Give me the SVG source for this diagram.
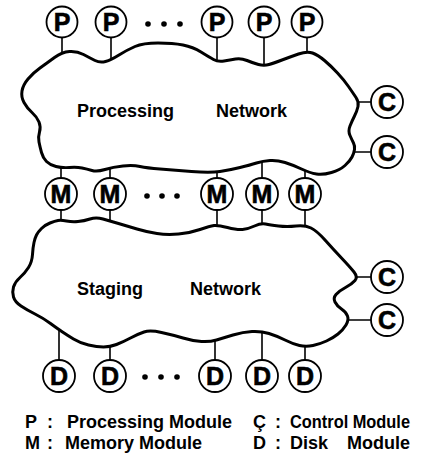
<svg xmlns="http://www.w3.org/2000/svg" width="421" height="455" viewBox="0 0 421 455">
  <style>
    .cloud { fill: none; stroke: #000; stroke-width: 3; stroke-linejoin: round; }
    .stem { stroke: #000; stroke-width: 1.6; fill: none; }
    .mod circle { fill: #fff; stroke: #000; stroke-width: 1.8; }
    .mod text { font-family: "Liberation Sans", Arial, sans-serif; font-weight: bold; font-size: 25px; text-anchor: middle; fill: #000; stroke: #000; stroke-width: 0.6; }
    .label { font-family: "Liberation Sans", Arial, sans-serif; font-weight: bold; font-size: 18px; fill: #000; }
    .legend { font-family: "Liberation Sans", Arial, sans-serif; font-weight: bold; font-size: 18px; fill: #000; }
    .dot { fill: #000; }
  </style>
  <rect width="421" height="455" fill="#fff"/>

  <!-- networks -->
  <g id="processing-network">
    <path class="cloud" d="M24,102.5 Q21,97 22,91 Q23,85 28,79 Q33,73 40,68 Q47,63 54.5,57.5 Q62,52 69.5,51.5 Q77,51 83.5,54.5 Q90,58 95,60.5 Q100,63 105.5,61.5 Q111,60 119,55 Q127,50 135,46.5 Q143,43 158,43 Q173,43 183,45 Q193,47 201,52 Q209,57 213.5,59.5 Q218,62 224,61 Q230,60 235.5,59 Q241,58 247,60.5 Q253,63 258.5,64.5 Q264,66 269,64.5 Q274,63 282,60 Q290,57 298.5,54 Q307,51 312.5,53 Q318,55 324.5,60.5 Q331,66 337.5,73 Q344,80 348.5,86.5 Q353,93 356,97.5 Q359,102 358,106.5 Q357,111 354.5,116 Q352,121 350,126 Q348,131 350,135.5 Q352,140 353.5,143 Q355,146 354.5,149.5 Q354,153 352,157 Q350,161 345,165.5 Q340,170 331.5,172.5 Q323,175 316.5,174 Q310,173 301.5,169 Q293,165 285,162.5 Q277,160 270,160.5 Q263,161 256.5,163 Q250,165 240,167.5 Q230,170 220,171.5 Q210,173 191.5,171.5 Q173,170 160,169 Q147,168 140,166.5 Q133,165 123,166 Q113,167 105,169.5 Q97,172 92,170.5 Q87,169 82,168 Q77,167 69.5,167.5 Q62,168 56,166.5 Q50,165 46.5,161.5 Q43,158 41.5,152.5 Q40,147 39,142 Q38,137 39.5,132 Q41,127 39,122 Q37,117 32,112.5 Q27,108 24,102.5 Z"/>
    <text class="label" y="117"><tspan x="77">Processing</tspan><tspan x="216">Network</tspan></text>
  </g>
  <g id="staging-network">
    <path class="cloud" d="M36.5,235 Q38,232 41.5,228.5 Q45,225 50,223 Q55,221 58,220.5 Q61,220 66.5,221 Q72,222 78,221.5 Q84,221 90,219 Q96,217 103,219 Q110,221 118.5,223.5 Q127,226 137,229 Q147,232 157,233.5 Q167,235 178.5,234 Q190,233 200,229.5 Q210,226 214,225.5 Q218,225 227.5,227.5 Q237,230 242.5,229.5 Q248,229 254.5,226 Q261,223 265.5,224 Q270,225 278.5,226 Q287,227 296,226 Q305,225 311,228 Q317,231 325,240 Q333,249 341.5,258 Q350,267 354,272 Q358,277 355,280.5 Q352,284 345.5,287.5 Q339,291 336,294.5 Q333,298 335,302 Q337,306 341.5,309 Q346,312 347.5,316 Q349,320 346,325 Q343,330 338,334 Q333,338 326.5,341 Q320,344 313,345.5 Q306,347 299.5,345.5 Q293,344 285,340 Q277,336 269,333.5 Q261,331 252,331.5 Q243,332 233,335 Q223,338 216.5,340 Q210,342 201.5,341.5 Q193,341 183,338 Q173,335 161.5,332.5 Q150,330 144,332 Q138,334 130.5,338 Q123,342 116.5,344.5 Q110,347 103.5,347 Q97,347 88.5,345 Q80,343 73.5,339 Q67,335 62.5,332 Q58,329 50.5,323.5 Q43,318 35,314 Q27,310 21,306 Q15,302 13.5,297 Q12,292 13.5,287 Q15,282 20,277.5 Q25,273 28.5,267.5 Q32,262 32.5,254.5 Q33,247 34,242.5 Q35,238 36.5,235 Z"/>
    <text class="label" y="295"><tspan x="77">Staging</tspan><tspan x="190">Network</tspan></text>
  </g>

  <!-- links between modules and networks -->
  <g id="connectors">
    <path class="stem" d="M62,37.5 V53 M111,37.5 V59 M217,37.5 V61 M264,37.5 V65 M307,37.5 V52"/>
    <path class="stem" d="M61,167.5 V178 M110,168 V178 M217,172 V178 M262,161 V178 M305,171 V178"/>
    <path class="stem" d="M61,210 V220.5 M110,210 V221 M217,210 V225.5 M262,210 V224 M305,210 V226"/>
    <path class="stem" d="M59,329 V360 M110,346 V360 M215,340 V360 M262,332 V360 M305,346 V360"/>
    <path class="stem" d="M358,102 H371 M354,152 H371 M356,277 H371 M348,320 H371"/>
  </g>

  <!-- processing modules -->
  <g id="p1" class="mod"><circle cx="62" cy="22" r="15.5"/><text x="62" y="31">P</text></g>
  <g id="p2" class="mod"><circle cx="111" cy="22" r="15.5"/><text x="111" y="31">P</text></g>
  <g id="p3" class="mod"><circle cx="217" cy="22" r="15.5"/><text x="217" y="31">P</text></g>
  <g id="p4" class="mod"><circle cx="264" cy="22" r="15.5"/><text x="264" y="31">P</text></g>
  <g id="p5" class="mod"><circle cx="307" cy="22" r="15.5"/><text x="307" y="31">P</text></g>
  <g id="p-ellipsis"><circle class="dot" cx="148" cy="24" r="2.8"/><circle class="dot" cx="164" cy="24" r="2.8"/><circle class="dot" cx="180" cy="24" r="2.8"/></g>

  <!-- memory modules -->
  <g id="m1" class="mod"><circle cx="61" cy="194" r="16"/><text x="61" y="203">M</text></g>
  <g id="m2" class="mod"><circle cx="110" cy="194" r="16"/><text x="110" y="203">M</text></g>
  <g id="m3" class="mod"><circle cx="217" cy="194" r="16"/><text x="217" y="203">M</text></g>
  <g id="m4" class="mod"><circle cx="262" cy="194" r="16"/><text x="262" y="203">M</text></g>
  <g id="m5" class="mod"><circle cx="305" cy="194" r="16"/><text x="305" y="203">M</text></g>
  <g id="m-ellipsis"><circle class="dot" cx="147" cy="196" r="2.8"/><circle class="dot" cx="162" cy="196" r="2.8"/><circle class="dot" cx="177" cy="196" r="2.8"/></g>

  <!-- disk modules -->
  <g id="d1" class="mod"><circle cx="59" cy="376" r="16"/><text x="59" y="385">D</text></g>
  <g id="d2" class="mod"><circle cx="110" cy="376" r="16"/><text x="110" y="385">D</text></g>
  <g id="d3" class="mod"><circle cx="215" cy="376" r="16"/><text x="215" y="385">D</text></g>
  <g id="d4" class="mod"><circle cx="262" cy="376" r="16"/><text x="262" y="385">D</text></g>
  <g id="d5" class="mod"><circle cx="305" cy="376" r="16"/><text x="305" y="385">D</text></g>
  <g id="d-ellipsis"><circle class="dot" cx="145" cy="377" r="2.8"/><circle class="dot" cx="161" cy="377" r="2.8"/><circle class="dot" cx="177" cy="377" r="2.8"/></g>

  <!-- control modules -->
  <g id="c1" class="mod"><circle cx="387" cy="102" r="16"/><text x="387" y="111">C</text></g>
  <g id="c2" class="mod"><circle cx="387" cy="152" r="16"/><text x="387" y="161">C</text></g>
  <g id="c3" class="mod"><circle cx="387" cy="277" r="16"/><text x="387" y="286">C</text></g>
  <g id="c4" class="mod"><circle cx="387" cy="320" r="16"/><text x="387" y="329">C</text></g>

  <!-- legend -->
  <g id="legend" class="legend">
    <text x="25" y="428">P</text><text x="47" y="428">:</text>
    <text x="67" y="428">Processing Module</text>
    <text x="253" y="428">Ç</text><text x="275" y="428">:</text>
    <text x="290" y="428" textLength="120" lengthAdjust="spacingAndGlyphs">Control Module</text>
    <text x="25" y="449">M</text><text x="47" y="449">:</text>
    <text x="65" y="449">Memory Module</text>
    <text x="253" y="449">D</text><text x="275" y="449">:</text>
    <text y="449"><tspan x="290">Disk</tspan><tspan x="347">Module</tspan></text>
  </g>
</svg>
